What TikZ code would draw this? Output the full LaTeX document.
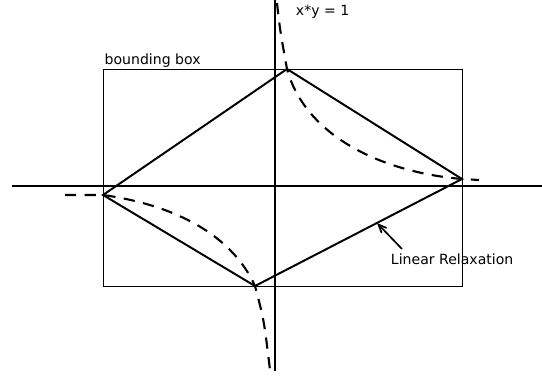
\documentclass[tikz,border=0pt]{standalone}
\usepackage{fontspec}
\setmainfont{DejaVu Sans}
\usetikzlibrary{arrows, positioning}

\begin{document}
\begin{tikzpicture}[x=0.025cm, y=-0.025cm, font=\fontsize{10}{12}\selectfont,
    axis/.style={line width=2pt},
    relax/.style={line width=1.4pt},
    hyper/.style={line width=1.5pt, dash pattern=on 8pt off 6pt}]
        \useasboundingbox (0,0) rectangle (542,376);

        % Axes
        \coordinate (xleft) at (12,186);
        \coordinate (xright) at (542,186);
        \coordinate (ytop) at (275,0);
        \coordinate (ybot) at (275,371);
        \draw[axis] (xleft) -- (xright);
        \draw[axis] (ytop) -- (ybot);

        % Bounding box
        \node (bbox) [draw, rectangle, line width=0.7pt, inner sep=0pt, minimum width=359*0.025cm, minimum height=217*0.025cm, anchor=north west] at (103,69) {};
        \node (bboxlabel) [anchor=south west, inner sep=1pt] at (bbox.north west) {bounding box};

        % Corners of the relaxation
        \coordinate (top) at (287,69);
        \coordinate (right) at (462,179);
        \coordinate (bottom) at (255,286);
        \coordinate (left) at (103,195);

        % Linear relaxation
        \draw[relax] (left) -- (top) -- (right) -- (bottom) -- cycle;

        % Hyperbola x*y = 1
        \coordinate (upstart) at (277,3);
        \coordinate (upend) at (479,180);
        \coordinate (lowstart) at (65,195);
        \coordinate (lowend) at (270,370);
        \draw[hyper] (upstart) .. controls (280,30) .. (top)
            .. controls (305,135) and (380,172) .. (right) -- (upend);
        \draw[hyper] (lowstart) -- (left)
            .. controls (175,205) and (232,235) .. (bottom)
            .. controls (264,320) .. (lowend);
        \node (hyperlabel) [anchor=west] at (291,12) {x*y = 1};

        % Label
        \node (relaxlabel) [anchor=west] at (386,259) {Linear Relaxation};
        \coordinate (arrowtip) at (377,223);
        \coordinate (arrowtail) at (402,249);
        \draw[->, >=angle 45, line width=1.2pt] (arrowtail) -- (arrowtip);
\end{tikzpicture}
\end{document}
